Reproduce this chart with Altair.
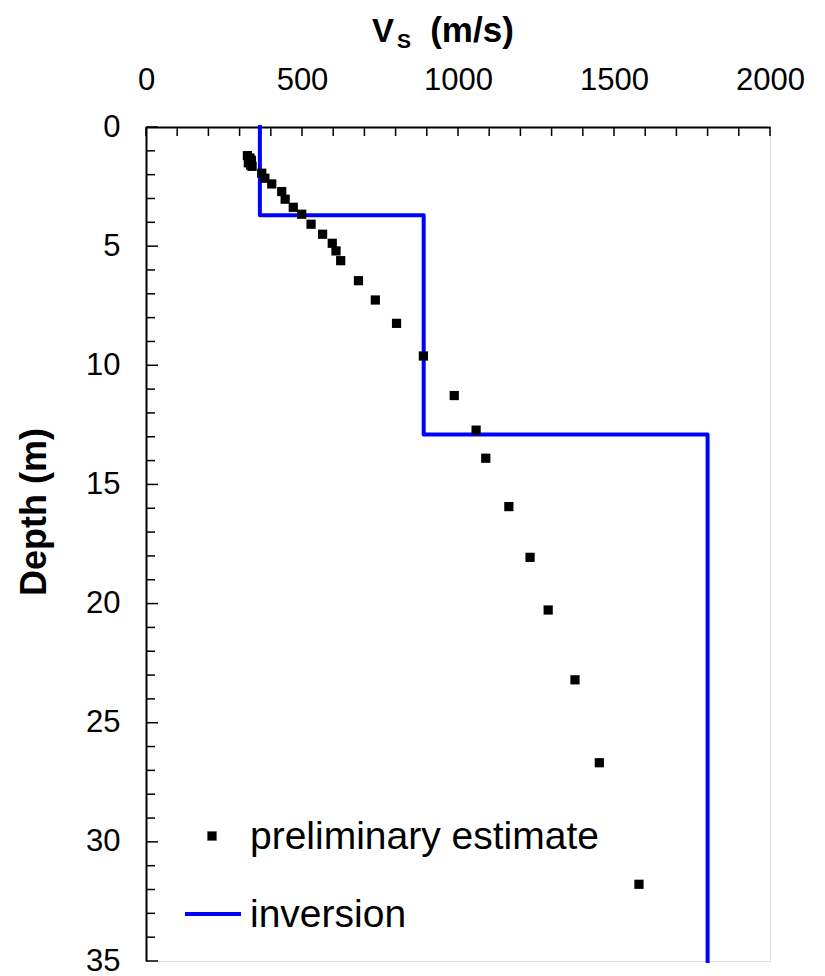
import altair as alt
import pandas as pd

# ---- data ----
est_vs = [325, 333, 338, 328, 335, 340, 371, 381, 403, 435, 446, 472, 499, 529, 566,
          597, 609, 624, 681, 735, 803, 889, 988, 1058, 1089, 1163, 1231, 1289, 1375,
          1453, 1580]
est_depth = [1.2, 1.3, 1.4, 1.5, 1.6, 1.65, 1.94, 2.15, 2.39, 2.71, 3.03, 3.37, 3.66,
             4.08, 4.50, 4.88, 5.20, 5.61, 6.45, 7.26, 8.24, 9.61, 11.27, 12.72, 13.90,
             15.93, 18.06, 20.27, 23.2, 26.68, 31.78]
inv_vs = [365, 365, 890, 890, 1800, 1800]
inv_depth = [0, 3.7, 3.7, 12.9, 12.9, 35]

x_labels = [0, 500, 1000, 1500, 2000]
y_labels = [0, 5, 10, 15, 20, 25, 30, 35]
x_minor_ticks = list(range(0, 2001, 100))
y_minor_ticks = [d for d in range(0, 36) if d % 5 != 0]
y_major_ticks = [d for d in range(0, 36) if d % 5 == 0]

legend_labels = ["preliminary estimate", "inversion"]

FONT = "Liberation Sans"

est = pd.DataFrame({"vs": est_vs, "depth": est_depth})
inv = pd.DataFrame({"vs": inv_vs, "depth": inv_depth, "order": list(range(len(inv_vs)))})

xs = alt.Scale(domain=[0, 2000], nice=False, zero=False)
ys = alt.Scale(domain=[0, 35], nice=False, reverse=True, zero=False)

xaxis = alt.Axis(orient="top", values=x_labels, title=None, grid=False, ticks=False,
                 tickSize=0, labelPadding=38, labelBaseline="alphabetic", format="d",
                 labelFontSize=31, labelFont=FONT, labelColor="black",
                 domainColor="black", domainWidth=2, labelFlush=False, labelOverlap=False)
yaxis = alt.Axis(orient="left", values=y_labels, title=None, grid=False, ticks=False,
                 tickSize=0, labelPadding=26, labelFontSize=31, labelFont=FONT, format="d",
                 labelColor="black", domainColor="black", domainWidth=2,
                 labelFlush=False, labelOverlap=False)

line = alt.Chart(inv).mark_line(color="#0000FF", strokeWidth=4, strokeJoin="round",
                                strokeCap="square").encode(
    x=alt.X("vs:Q", scale=xs, axis=xaxis),
    y=alt.Y("depth:Q", scale=ys, axis=yaxis),
    order="order:Q",
)

pts = alt.Chart(est).mark_point(shape="square", filled=True, color="black", size=85,
                                opacity=1).encode(
    x=alt.X("vs:Q", scale=xs, axis=xaxis),
    y=alt.Y("depth:Q", scale=ys, axis=yaxis),
)

xt = alt.Chart(pd.DataFrame({"t": x_minor_ticks})).mark_rule(color="black", strokeWidth=1.5).encode(
    x=alt.X("t:Q", scale=xs, axis=xaxis),
    y=alt.value(0), y2=alt.value(9),
)
ytm = alt.Chart(pd.DataFrame({"t": y_minor_ticks})).mark_rule(color="black", strokeWidth=1.5).encode(
    y=alt.Y("t:Q", scale=ys, axis=yaxis),
    x=alt.value(0), x2=alt.value(9),
)
ytM = alt.Chart(pd.DataFrame({"t": y_major_ticks})).mark_rule(color="black", strokeWidth=1.5).encode(
    y=alt.Y("t:Q", scale=ys, axis=yaxis),
    x=alt.value(0), x2=alt.value(12),
)

# ---- titles ----
def txt(s, x, y, size, bold=True, align="left", angle=0, baseline="alphabetic"):
    return alt.Chart(pd.DataFrame({"s": [s]})).mark_text(
        font=FONT, fontSize=size, fontWeight="bold" if bold else "normal",
        align=align, baseline=baseline, angle=angle, color="black"
    ).encode(text="s:N", x=alt.value(x), y=alt.value(y))

t_v = txt("V", 226, -85, 33)
t_s = txt("S", 251, -79, 21)
t_ms = txt("(m/s)", 326, -85, 35, align="center")
t_depth = txt("Depth (m)", -100, 385, 36, align="center", angle=270)

# ---- legend ----
leg_pt = alt.Chart(pd.DataFrame({"k": [legend_labels[0]]})).mark_point(
    shape="square", filled=True, color="black", size=85, opacity=1
).encode(x=alt.value(66), y=alt.value(709))
leg_ln = alt.Chart(pd.DataFrame({"k": [legend_labels[1]]})).mark_rule(
    color="#0000FF", strokeWidth=4
).encode(x=alt.value(39), x2=alt.value(95), y=alt.value(787))
leg_t1 = txt(legend_labels[0], 104, 722, 39, bold=False)
leg_t2 = txt(legend_labels[1], 104, 800, 39, bold=False)

chart = alt.layer(
    xt, ytm, ytM, line, pts, t_v, t_s, t_ms, t_depth, leg_pt, leg_ln, leg_t1, leg_t2
).properties(
    width=624, height=834,
    autosize=alt.AutoSizeParams(type="none"),
    padding={"left": 138, "top": 119, "right": 40, "bottom": 15},
).configure_view(
    stroke="#999999", strokeWidth=1.5
).configure(background="white")

chart.save("out.html", embed_options={"renderer": "svg", "actions": False})
